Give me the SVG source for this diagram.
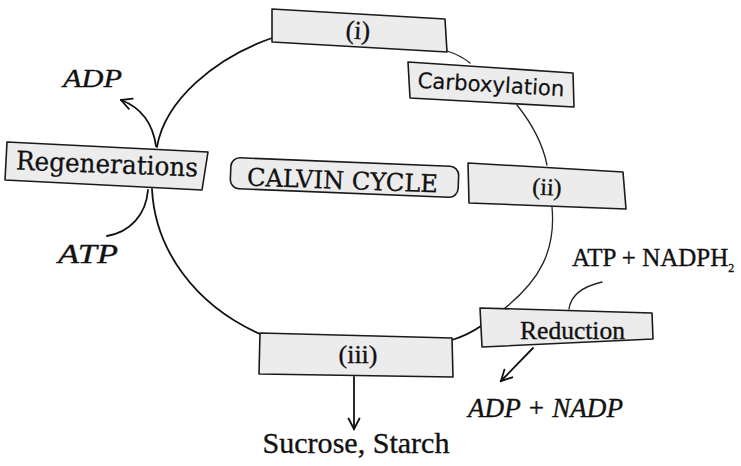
<svg xmlns="http://www.w3.org/2000/svg" width="741" height="466" viewBox="0 0 741 466">
<defs>
<style>
.box{fill:#ececec;stroke:#1a1a1a;stroke-width:1.6;stroke-linejoin:round}
.ln{fill:none;stroke:#111;stroke-width:1.8;stroke-linecap:round}
.thin{fill:none;stroke:#222;stroke-width:1.3;stroke-linecap:round}
.serif{font-family:"Liberation Serif","Times New Roman",serif;fill:#111;stroke:#111;stroke-width:0.35}
.dserif{font-family:"DejaVu Serif","Liberation Serif",serif;fill:#111;stroke:#111;stroke-width:0.3}
.sans{font-family:"DejaVu Sans","Liberation Sans",sans-serif;fill:#111;stroke:#111;stroke-width:0.2}
.it{font-family:"Liberation Serif","Times New Roman",serif;font-style:italic;fill:#111;stroke:#111;stroke-width:0.35}
</style>
<marker id="arr" viewBox="0 0 14 14" refX="12.5" refY="7" markerWidth="14" markerHeight="14" orient="auto" markerUnits="userSpaceOnUse">
<path d="M2,1.5 L12.5,7 L2,12.5" fill="none" stroke="#111" stroke-width="1.8" stroke-linecap="round" stroke-linejoin="miter"/>
</marker>
</defs>
<rect width="741" height="466" fill="#ffffff"/>

<g id="connectors">
<path class="ln" d="M272,38 C215,58 165,100 157,147"/>
<path class="ln" d="M152,189 C155,250 195,305 260,334"/>
<path class="ln" d="M452,340 Q468,335 481,326"/>
<path class="thin" d="M505,308 C540,280 556,250 552,207"/>
<path class="thin" d="M517,105 C533,125 543,145 547,165"/>
<path class="thin" d="M447,51 Q460,55 470,63"/>
<path class="ln" d="M156,146 C153,125 142,108 121,100" marker-end="url(#arr)"/>
<path class="ln" d="M148,190 C146,215 130,232 107,236"/>
<path class="thin" d="M602,282 C585,286 571,293 569,309"/>
<path class="ln" d="M533,348 L501,381" marker-end="url(#arr)"/>
<path class="ln" d="M354,377 L354,429" marker-end="url(#arr)"/>
</g>

<g id="node-i">
<polygon class="box" points="272,9 445,19 447,52 272,42"/>
<text class="serif" font-size="26" text-anchor="middle" x="358" y="39" transform="rotate(3.5 358 30)">(i)</text>
</g>

<g id="node-carboxylation">
<polygon class="box" points="408,62 573,73 574,107 410,98"/>
<text class="sans" font-size="21.5" text-anchor="middle" x="491" y="92" textLength="147" lengthAdjust="spacingAndGlyphs" transform="rotate(3.3 491 85)">Carboxylation</text>
</g>

<g id="node-ii">
<polygon class="box" points="468,163 623,172 626,209 469,203"/>
<text class="serif" font-size="24" text-anchor="middle" x="547" y="195" transform="rotate(2.5 547 187)">(ii)</text>
</g>

<g id="node-calvin">
<rect class="box" x="230.5" y="162" width="228" height="31" rx="9" transform="rotate(2.3 344.5 177.5)"/>
<text class="dserif" font-size="24.5" text-anchor="middle" x="342.5" y="189" textLength="191" lengthAdjust="spacingAndGlyphs" transform="rotate(2.1 342.5 180)">CALVIN CYCLE</text>
</g>

<g id="node-regenerations">
<polygon class="box" points="7,142 208,152 202,190 5,180"/>
<text class="dserif" font-size="26" text-anchor="middle" x="107" y="173" textLength="182" lengthAdjust="spacingAndGlyphs" transform="rotate(2.2 107 165)">Regenerations</text>
</g>

<g id="node-reduction">
<polygon class="box" points="480,308 652,313 653,339 482,347"/>
<text class="serif" font-size="26" text-anchor="middle" x="572.5" y="339" textLength="105" lengthAdjust="spacingAndGlyphs">Reduction</text>
</g>

<g id="node-iii">
<polygon class="box" points="260,333 452,338 453,377 259,374"/>
<text class="serif" font-size="26" text-anchor="middle" x="358" y="363">(iii)</text>
</g>

<g id="label-adp-top">
<text class="it" font-size="26" x="63" y="87" textLength="59" lengthAdjust="spacingAndGlyphs">ADP</text>
</g>
<g id="label-atp-left">
<text class="it" font-size="28" x="58" y="263" textLength="60" lengthAdjust="spacingAndGlyphs">ATP</text>
</g>
<g id="label-atp-nadph">
<text class="serif" font-size="25" x="572" y="266">ATP + NADPH<tspan font-size="12" dy="6">2</tspan></text>
</g>
<g id="label-adp-nadp">
<text class="it" font-size="27" x="468" y="417" textLength="155" lengthAdjust="spacingAndGlyphs">ADP + NADP</text>
</g>
<g id="label-sucrose">
<text class="serif" font-size="30" text-anchor="middle" x="356" y="453" textLength="187" lengthAdjust="spacingAndGlyphs">Sucrose, Starch</text>
</g>
</svg>
